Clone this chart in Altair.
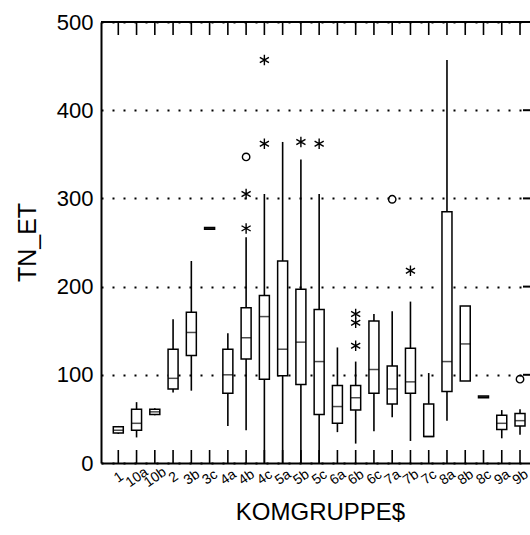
import altair as alt
import pandas as pd

# categories and box statistics
cats = ["1", "10a", "10b", "2", "3b", "3c", "4a", "4b", "4c", "5a", "5b", "5c",
        "6a", "6b", "6c", "7a", "7b", "7c", "8a", "8b", "8c", "9a", "9b"]
w_lo = [33, 29, 54, 80, 82, 265, 42, 37, 0, 0, 0, 0, 35, 22, 36, 52, 25, 30, 48, 93, 74, 28, 32]
q1 = [34, 37, 55, 84, 122, 265, 79, 118, 95, 99, 89, 55, 45, 60, 79, 67, 79, 30, 81, 93, 74, 38, 42]
med = [37, 45, 58, 96, 148, 266, 100, 142, 166, 129, 137, 115, 64, 74, 106, 84, 92, 30, 115, 135, 75, 45, 48]
q3 = [41, 61, 61, 129, 171, 267, 129, 176, 190, 229, 197, 174, 88, 88, 161, 110, 130, 67, 285, 178, 76, 54, 56]
w_hi = [42, 69, 62, 163, 229, 267, 147, 256, 305, 364, 344, 305, 131, 115, 169, 172, 183, 102, 457, 178, 76, 60, 61]

# extreme values (*) and outliers (o)
star_grp = ["4b", "4b", "4c", "4c", "5b", "5c", "6b", "6b", "6b", "7b"]
star_val = [266, 305, 362, 457, 364, 362, 133, 159, 169, 218]
circ_grp = ["4b", "7a", "9b"]
circ_val = [347, 299, 95]

y_labels = [0, 100, 200, 300, 400, 500]
grid_vals = [100, 200, 300, 400]

W, H = 429, 441
FONT = "Liberation Sans"

box_df = pd.DataFrame({"grp": cats, "lo": w_lo, "q1": q1, "med": med, "q3": q3, "hi": w_hi})
star_df = pd.DataFrame({"grp": star_grp, "val": star_val})
circ_df = pd.DataFrame({"grp": circ_grp, "val": circ_val})
cat_df = pd.DataFrame({"grp": cats})
grid_df = pd.DataFrame({"v": grid_vals})

xscale = alt.Scale(type="point", domain=cats, padding=0.747, align=0.634)
xaxis = alt.Axis(title="KOMGRUPPE$", ticks=False, grid=False, labelAngle=325,
                 labelAlign="center", labelBaseline="middle", labelPadding=14,
                 labelFontSize=14, labelFont=FONT, labelColor="black",
                 domainWidth=2, domainColor="black",
                 titleFont=FONT, titleFontSize=24, titleFontWeight="normal",
                 titleColor="black", titleX=219, titleY=56, titleAlign="center",
                 titleBaseline="alphabetic")
yscale = alt.Scale(domain=[0, 500], nice=False, zero=True)
yaxis = alt.Axis(title="TN_ET", values=y_labels, ticks=False, grid=True,
                 gridDash=[2, 9], gridWidth=2, gridColor="black",
                 labelFontSize=22, labelFont=FONT, labelColor="black", labelPadding=8,
                 domainWidth=2, domainColor="black",
                 titleFont=FONT, titleFontSize=25, titleFontWeight="normal",
                 titleColor="black", titleAngle=270, titleX=-74, titleY=220,
                 titleAlign="center", titleBaseline="middle")

X = alt.X("grp:N", scale=xscale, sort=cats, axis=xaxis)


def Y(field):
    return alt.Y(field, type="quantitative", scale=yscale, axis=yaxis)


base = alt.Chart(box_df)
whisk_lo = base.mark_rule(color="black", strokeWidth=1.6).encode(x=X, y=Y("lo"), y2="q1")
whisk_hi = base.mark_rule(color="black", strokeWidth=1.6).encode(x=X, y=Y("q3"), y2="hi")
boxes = base.mark_bar(size=10, fill="white", stroke="black", strokeWidth=1.5).encode(
    x=X, y=Y("q1"), y2="q3")
medians = base.mark_tick(size=10, thickness=1.5, color="black").encode(x=X, y=Y("med"))

star_path = "M0,-1L0,1M-0.87,-0.5L0.87,0.5M-0.87,0.5L0.87,-0.5"
stars = alt.Chart(star_df).mark_point(shape=star_path, size=110, filled=False,
                                      stroke="black", strokeWidth=1.4, opacity=1).encode(
    x=X, y=Y("val"))
circles = alt.Chart(circ_df).mark_point(shape="circle", size=55, filled=False,
                                        stroke="black", strokeWidth=1.4, opacity=1).encode(
    x=X, y=Y("val"))

bottom_ticks = alt.Chart(cat_df).mark_rule(color="black", strokeWidth=1.6).encode(
    x=X, y=alt.value(H), y2=alt.value(H - 13))
top_ticks = alt.Chart(cat_df).mark_rule(color="black", strokeWidth=1.6).encode(
    x=X, y=alt.value(0), y2=alt.value(13))
top_border = alt.Chart(cat_df).mark_rule(color="black", strokeWidth=2).encode(
    x=alt.value(0), x2=alt.value(W), y=alt.value(0))
right_ticks = alt.Chart(grid_df).mark_rule(color="black", strokeWidth=2).encode(
    y=Y("v"), x=alt.value(W - 7), x2=alt.value(W))

chart = alt.layer(
    whisk_lo, whisk_hi, boxes, medians, stars, circles,
    bottom_ticks, top_ticks, top_border, right_ticks
).properties(
    width=W, height=H,
    autosize=alt.AutoSizeParams(type="none"),
    padding={"left": 101, "top": 22, "right": 0, "bottom": 72},
    background="white",
).configure_view(stroke=None)

chart.save("out.html", embed_options={"renderer": "svg", "actions": False})
